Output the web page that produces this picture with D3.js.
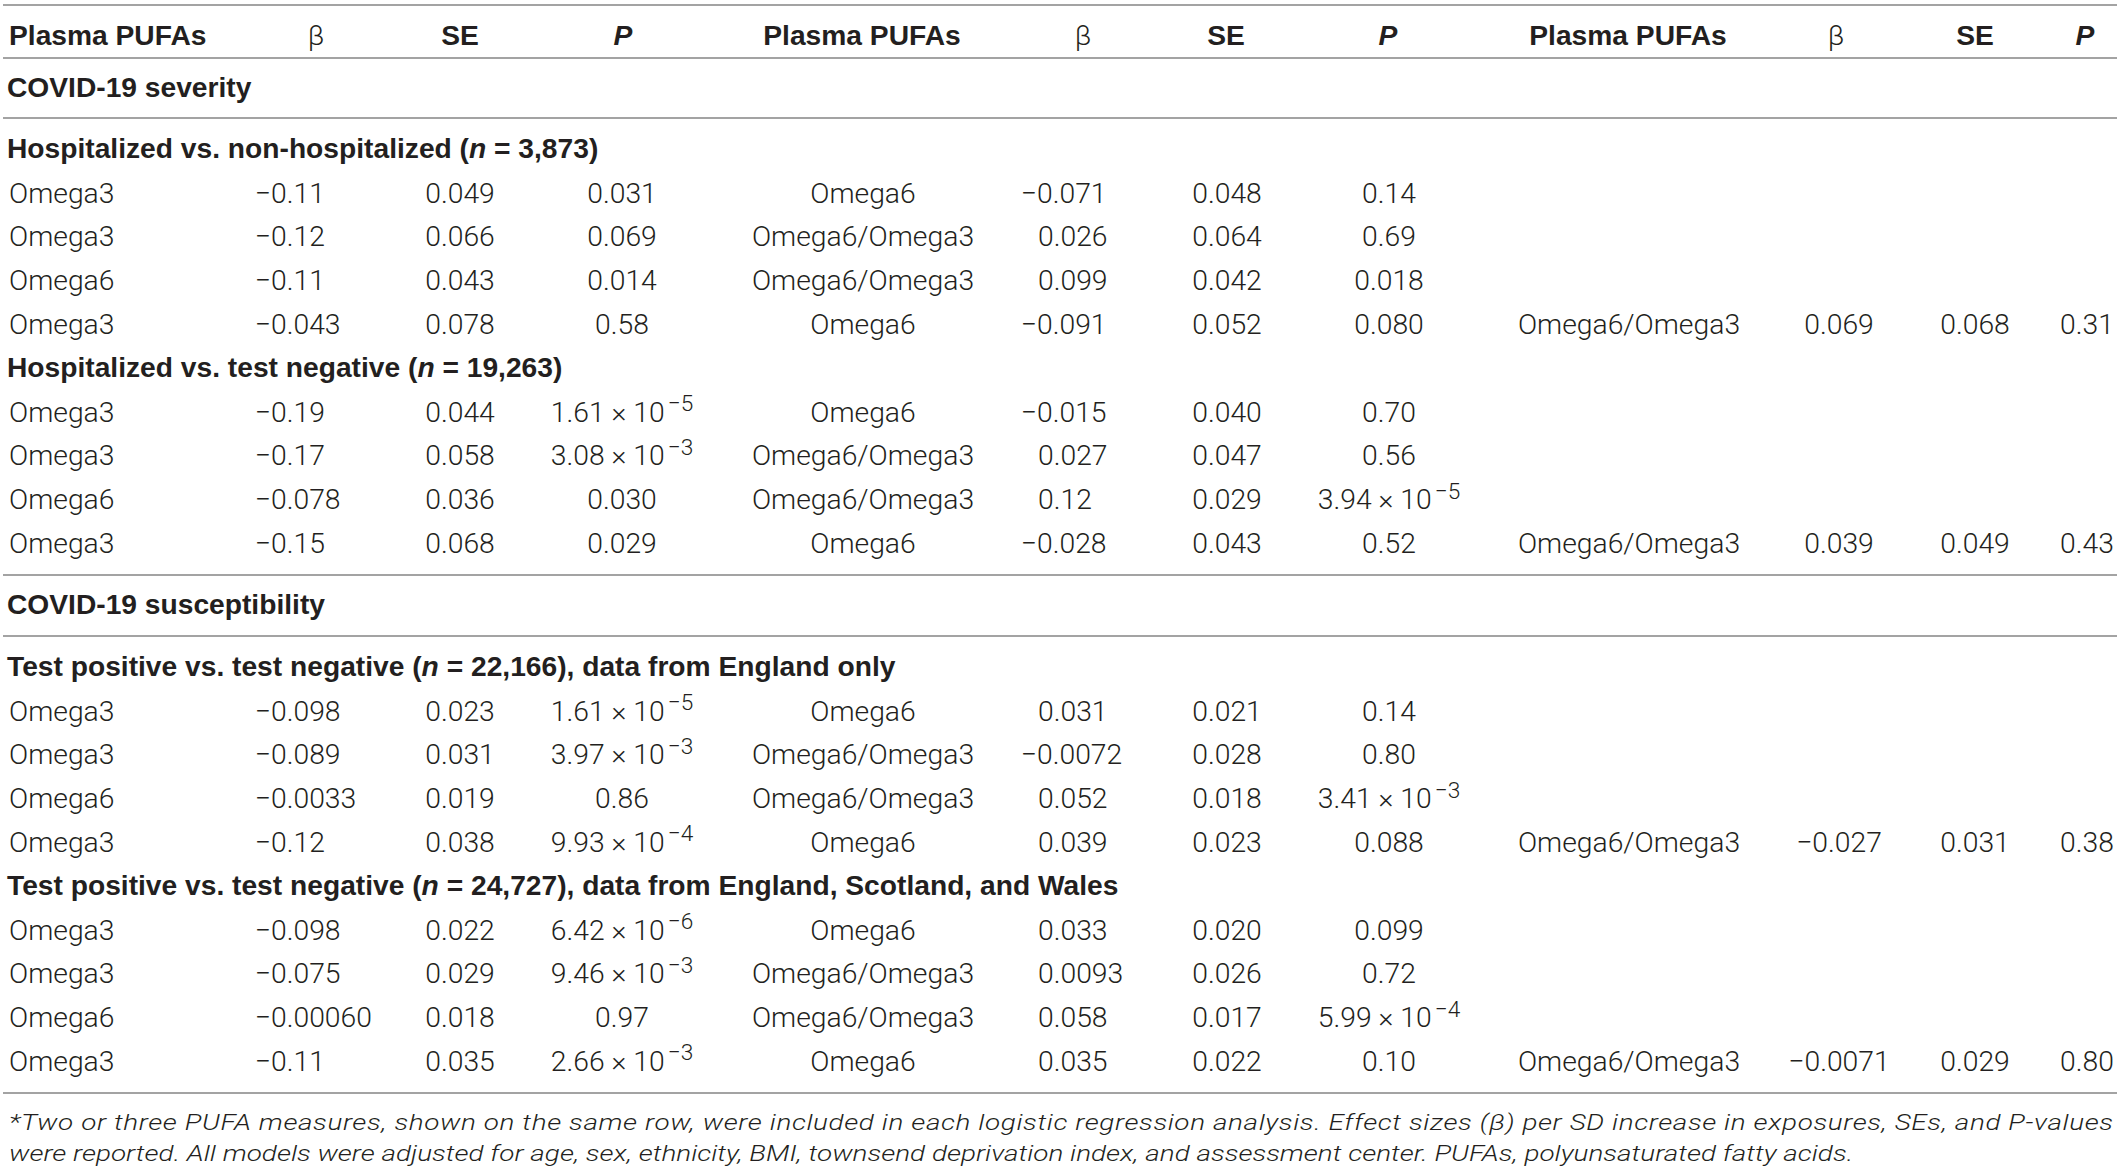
<!DOCTYPE html>
<html lang="en">
<head>
<meta charset="UTF-8">
<title>Plasma PUFAs and COVID-19</title>
<script src="https://cdn.jsdelivr.net/npm/d3@7"></script>
<style>
    body { margin: 0; background: #fff; }
    text { fill: #231f20; }
    .cell { font-family: Roboto, "Liberation Sans", sans-serif; font-weight: 300; font-size: 28.3px; }
    .head { font-family: "Liberation Sans", Arial, sans-serif; font-weight: 700; font-size: 28.2px; }
    .note { font-family: Roboto, "Liberation Sans", sans-serif; font-weight: 300; font-style: italic; font-size: 22px; }
</style>
</head>
<body>
<svg id="chart" width="2121" height="1175"></svg>
<script>
// table content
const headings = ["Plasma PUFAs", "β", "SE", "P"];
const sections = ["COVID-19 severity", "COVID-19 susceptibility"];
const groupTitles = ["Hospitalized vs. non-hospitalized", "Hospitalized vs. test negative",
    "Test positive vs. test negative", "Test positive vs. test negative"];
const groupN = ["3,873", "19,263", "22,166", "24,727"];
const groupNotes = ["", "", ", data from England only", ", data from England, Scotland, and Wales"];

// one row = three PUFA blocks: name, beta, SE, P ("^" marks the exponent)
const rowsHospNonHosp = [
    ["Omega3", "−0.11", "0.049", "0.031", "Omega6", "−0.071", "0.048", "0.14", "", "", "", ""],
    ["Omega3", "−0.12", "0.066", "0.069", "Omega6/Omega3", "0.026", "0.064", "0.69", "", "", "", ""],
    ["Omega6", "−0.11", "0.043", "0.014", "Omega6/Omega3", "0.099", "0.042", "0.018", "", "", "", ""],
    ["Omega3", "−0.043", "0.078", "0.58", "Omega6", "−0.091", "0.052", "0.080", "Omega6/Omega3", "0.069", "0.068", "0.31"]
];
const rowsHospTestNeg = [
    ["Omega3", "−0.19", "0.044", "1.61 × 10^−5", "Omega6", "−0.015", "0.040", "0.70", "", "", "", ""],
    ["Omega3", "−0.17", "0.058", "3.08 × 10^−3", "Omega6/Omega3", "0.027", "0.047", "0.56", "", "", "", ""],
    ["Omega6", "−0.078", "0.036", "0.030", "Omega6/Omega3", "0.12", "0.029", "3.94 × 10^−5", "", "", "", ""],
    ["Omega3", "−0.15", "0.068", "0.029", "Omega6", "−0.028", "0.043", "0.52", "Omega6/Omega3", "0.039", "0.049", "0.43"]
];
const rowsPosNegEngland = [
    ["Omega3", "−0.098", "0.023", "1.61 × 10^−5", "Omega6", "0.031", "0.021", "0.14", "", "", "", ""],
    ["Omega3", "−0.089", "0.031", "3.97 × 10^−3", "Omega6/Omega3", "−0.0072", "0.028", "0.80", "", "", "", ""],
    ["Omega6", "−0.0033", "0.019", "0.86", "Omega6/Omega3", "0.052", "0.018", "3.41 × 10^−3", "", "", "", ""],
    ["Omega3", "−0.12", "0.038", "9.93 × 10^−4", "Omega6", "0.039", "0.023", "0.088", "Omega6/Omega3", "−0.027", "0.031", "0.38"]
];
const rowsPosNegGB = [
    ["Omega3", "−0.098", "0.022", "6.42 × 10^−6", "Omega6", "0.033", "0.020", "0.099", "", "", "", ""],
    ["Omega3", "−0.075", "0.029", "9.46 × 10^−3", "Omega6/Omega3", "0.0093", "0.026", "0.72", "", "", "", ""],
    ["Omega6", "−0.00060", "0.018", "0.97", "Omega6/Omega3", "0.058", "0.017", "5.99 × 10^−4", "", "", "", ""],
    ["Omega3", "−0.11", "0.035", "2.66 × 10^−3", "Omega6", "0.035", "0.022", "0.10", "Omega6/Omega3", "−0.0071", "0.029", "0.80"]
];
const groupRows = [rowsHospNonHosp, rowsHospTestNeg, rowsPosNegEngland, rowsPosNegGB];

const footnote = [
    "*Two or three PUFA measures, shown on the same row, were included in each logistic regression analysis. Effect sizes (β) per SD increase in exposures, SEs, and P-values",
    "were reported. All models were adjusted for age, sex, ethnicity, BMI, townsend deprivation index, and assessment center. PUFAs, polyunsaturated fatty acids."
];

// layout
const W = 2121;
const svg = d3.select("#chart");
const colIdx = d3.range(12);

// x of each column (cell text) and of its heading
const xCell = d3.scaleOrdinal().domain(colIdx)
    .range([9, 272, 460, 622, 863, 1038, 1227, 1389, 1629, 1839, 1975, 2087]);
const xHead = d3.scaleOrdinal().domain(colIdx)
    .range([9, 316, 460, 623, 862, 1083, 1226, 1388, 1628, 1836, 1975, 2085]);
// "dec" = digits start at x, minus sign hangs to the left
const colAlign = ["start", "dec", "middle", "middle", "middle", "dec", "middle", "middle", "middle", "middle", "middle", "middle"];

const ruleY = [5, 58, 118, 575, 636, 1093];
const sectionY = d3.scaleOrdinal().domain([0, 1]).range([97, 614]);
const groupY = d3.scaleOrdinal().domain(d3.range(4)).range([158, 377, 676, 895]);
const rowStep = d3.scaleLinear().domain([0, 1]).range([44.5, 88.2]);

// rules
svg.selectAll("line.rule").data(ruleY).join("line")
    .attr("class", "rule")
    .attr("x1", 3).attr("x2", W - 4)
    .attr("y1", d => d).attr("y2", d => d)
    .attr("stroke", "#a3a3a3").attr("stroke-width", 2);

// column headings
svg.selectAll("text.colhead").data(colIdx).join("text")
    .attr("class", "head colhead")
    .attr("x", i => xHead(i)).attr("y", 45)
    .attr("text-anchor", i => i === 0 ? "start" : "middle")
    .attr("font-style", i => i % 4 === 3 ? "italic" : null)
    .style("font-weight", i => i % 4 === 1 ? 300 : null)
    .style("font-family", i => i % 4 === 1 ? "Roboto, sans-serif" : null)
    .text(i => headings[i % 4]);

// section titles
svg.selectAll("text.section").data(sections).join("text")
    .attr("class", "head section")
    .attr("x", 7).attr("y", (d, i) => sectionY(i))
    .text(d => d);

// group titles with italic n
const gt = svg.selectAll("text.group").data(groupTitles).join("text")
    .attr("class", "head group")
    .attr("x", 7).attr("y", (d, i) => groupY(i));
gt.append("tspan").text(d => d + " (");
gt.append("tspan").attr("font-style", "italic").text("n");
gt.append("tspan").text((d, i) => " = " + groupN[i] + ")" + groupNotes[i]);

// width of the minus sign for decimal aligned columns
const probe = svg.append("text").attr("class", "cell").text("−");
const minusW = probe.node().getComputedTextLength();
probe.remove();

function writeCell(sel, str) {
    const parts = str.split("^");
    sel.text(parts[0]);
    if (parts.length > 1) {
        sel.append("tspan").attr("dy", "-0.45em").attr("dx", "0.14em")
            .attr("font-size", "0.8em").text(parts[1]);
    }
}

groupRows.forEach((rows, g) => {
    const gy = groupY(g);
    const rowG = svg.selectAll("g.rows-" + g).data(rows).join("g")
        .attr("class", "rows-" + g)
        .attr("transform", (d, r) => `translate(0,${gy + rowStep(r)})`);

    rowG.selectAll("text").data(d => d.map((v, c) => ({v: v, c: c})).filter(o => o.v !== ""))
        .join("text")
        .attr("class", "cell")
        .attr("x", o => {
            if (colAlign[o.c] === "dec" && o.v.startsWith("−")) return xCell(o.c) - minusW - 1;
            return xCell(o.c);
        })
        .attr("text-anchor", o => colAlign[o.c] === "dec" ? "start" : colAlign[o.c])
        .each(function (o) { writeCell(d3.select(this), o.v); });
});

// footnote: wide italic, first line justified to the table width
const noteSX = 1.27;
svg.selectAll("text.note").data(footnote).join("text")
    .attr("class", "note")
    .attr("transform", `scale(${noteSX},1)`)
    .attr("x", 9 / noteSX).attr("y", (d, i) => 1130 + i * 31)
    .attr("textLength", (d, i) => i === 0 ? 2104 / noteSX : null)
    .attr("lengthAdjust", "spacing")
    .text(d => d);
</script>
</body>
</html>
